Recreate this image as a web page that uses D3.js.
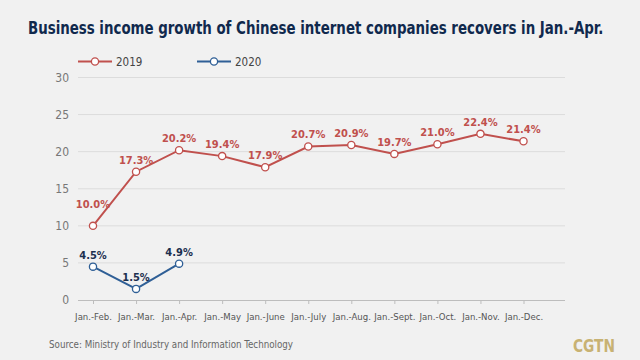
<!DOCTYPE html>
<html><head><meta charset="utf-8">
<script src="https://cdn.jsdelivr.net/npm/d3@7"></script>
<style>
body{margin:0;background:#f1f1f1;}
svg{display:block;}
</style></head>
<body><svg id="c" width="640" height="360"></svg>
<script>
const categories = ["Jan.-Feb.","Jan.-Mar.","Jan.-Apr.","Jan.-May","Jan.-June","Jan.-July","Jan.-Aug.","Jan.-Sept.","Jan.-Oct.","Jan.-Nov.","Jan.-Dec."];
const values2019 = [10.0,17.3,20.2,19.4,17.9,20.7,20.9,19.7,21.0,22.4,21.4];
const values2020 = [4.5,1.5,4.9];
const yTicks = [0,5,10,15,20,25,30];
const seriesNames = ["2019","2020"];
const colors = {"2019":"#c0504d","2020":"#2f5f96"};
const labelColors = {"2019":"#c0504d","2020":"#1c2f4f"};

const svg = d3.select("#c");
const cond = "'DejaVu Sans Condensed','Roboto',sans-serif";
svg.append("rect").attr("width",640).attr("height",360).attr("fill","#f1f1f1");

// title, horizontally fitted to the reference width
const title = svg.append("text").attr("x",0).attr("y",0)
  .attr("font-family",cond).attr("font-weight","bold").attr("font-size",18.5)
  .attr("fill","#10294d")
  .text("Business income growth of Chinese internet companies recovers in Jan.-Apr.");
const tw = title.node().getComputedTextLength();
title.attr("transform",`translate(28,34) scale(${Math.min(1,576/tw)},1)`);

const x = d3.scalePoint().domain(categories).range([93,523.5]);
const y = d3.scaleLinear().domain([0,30]).range([300,77.5]);

// gridlines
svg.append("g").selectAll("line").data(yTicks.filter(d=>d>0)).join("line")
  .attr("x1",78).attr("x2",565).attr("y1",d=>y(d)).attr("y2",d=>y(d))
  .attr("stroke","#dcdcdc").attr("stroke-width",1);

// y axis labels
const yAxis = d3.axisLeft(y).tickValues(yTicks).tickSize(0).tickPadding(0);
const gy = svg.append("g").attr("transform","translate(69,0)").call(yAxis);
gy.select(".domain").remove();
gy.selectAll("text").attr("font-family",cond).attr("font-size",12).attr("fill","#777");

// x axis
const xAxis = d3.axisBottom(x).tickSize(4).tickPadding(9);
const gx = svg.append("g").attr("transform","translate(0,300)").call(xAxis);
gx.select(".domain").attr("d","M78,0.5H565").attr("stroke","#bdbdbd");
gx.selectAll(".tick line").attr("stroke","#bdbdbd");
gx.selectAll("text").attr("font-family",cond).attr("font-size",9.5).attr("fill","#555");

const line = d3.line().x((d,i)=>x(categories[i])).y(d=>y(d));
const data = {"2019":values2019,"2020":values2020};
seriesNames.forEach(name=>{
  const vals = data[name];
  const g = svg.append("g");
  g.append("path").attr("d",line(vals)).attr("fill","none")
    .attr("stroke",colors[name]).attr("stroke-width",2);
  g.selectAll("circle").data(vals).join("circle")
    .attr("cx",(d,i)=>x(categories[i])).attr("cy",d=>y(d)).attr("r",3.6)
    .attr("fill","#fff").attr("stroke",colors[name]).attr("stroke-width",1.3);
  // labels: lift further when the line climbs steeply out of the point
  const lift = (d,i)=> (i===0 && i+1<vals.length && vals[i+1]-d>5) ? 18 : 8;
  g.selectAll("text").data(vals).join("text")
    .attr("x",(d,i)=>x(categories[i])).attr("y",(d,i)=>y(d)-lift(d,i))
    .attr("text-anchor","middle").attr("font-family",cond).attr("font-weight","bold")
    .attr("font-size",11).attr("fill",labelColors[name])
    .text(d=>d.toFixed(1)+"%");
});

// legend
const legX = {"2019":78,"2020":197};
seriesNames.forEach(name=>{
  const lx = legX[name], ly = 61.5;
  svg.append("line").attr("x1",lx).attr("x2",lx+34).attr("y1",ly).attr("y2",ly)
    .attr("stroke",colors[name]).attr("stroke-width",2);
  svg.append("circle").attr("cx",lx+17).attr("cy",ly).attr("r",3.6)
    .attr("fill","#fff").attr("stroke",colors[name]).attr("stroke-width",1.3);
  svg.append("text").attr("x",lx+38).attr("y",ly+4).attr("font-family",cond)
    .attr("font-size",11.5).attr("fill","#444").text(name);
});

svg.append("text").attr("x",49).attr("y",348).attr("font-family",cond)
  .attr("font-size",11).attr("fill","#666").attr("textLength",244).attr("lengthAdjust","spacingAndGlyphs")
  .text("Source: Ministry of Industry and Information Technology");
svg.append("text").attr("x",573).attr("y",352).attr("font-family",cond)
  .attr("font-weight","bold").attr("font-size",17).attr("fill","#c8b273")
  .attr("textLength",42).attr("lengthAdjust","spacingAndGlyphs")
  .text("CGTN");
</script></body></html>
